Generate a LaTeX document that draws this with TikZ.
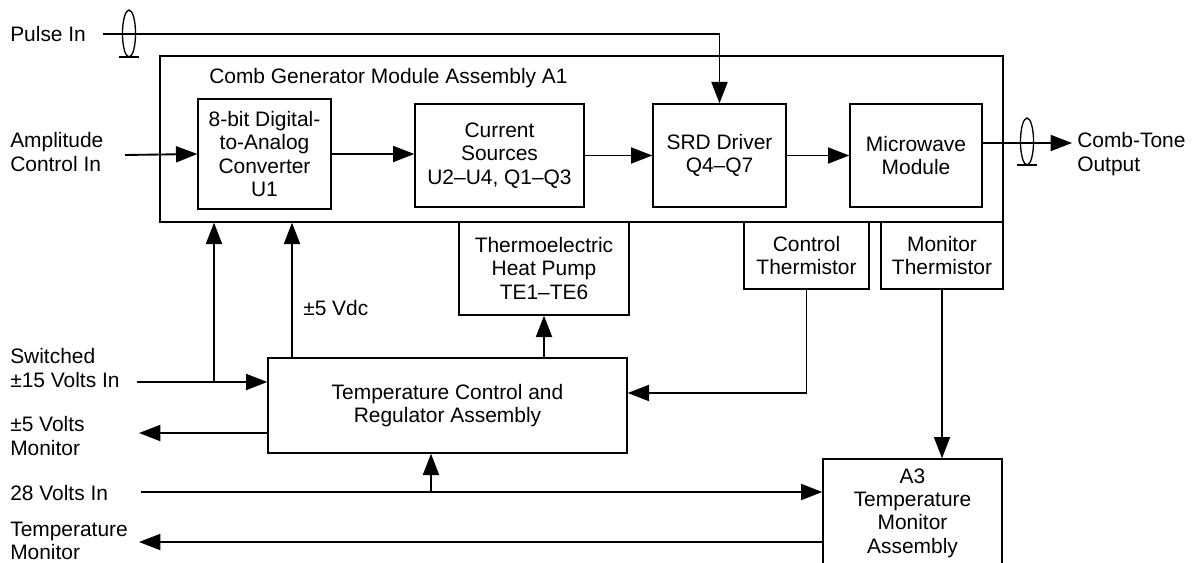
\documentclass[tikz,border=0pt]{standalone}
\usepackage{fontspec}
\setmainfont{Liberation Sans}
\usepackage{tikz}
\usetikzlibrary{arrows.meta,positioning}

\tikzset{
  blk/.style={draw,line width=1pt,align=center,inner sep=0pt},
  lbl/.style={align=left,inner sep=0pt,anchor=west},
  conn/.style={line width=1.4pt},
  arr/.style={conn,-{Triangle[length=16pt,width=12pt]}},
}
\newcommand{\shieldmark}[1]{%
  \draw[line width=1pt] (#1) ellipse [x radius=4.9pt,y radius=17.6pt];
  \draw[line width=1pt] ([xshift=-7.7pt,yshift=-17.6pt]#1) -- ++(15.4pt,0pt);}

\begin{document}
\begin{tikzpicture}[x=0.75pt,y=-0.75pt,font=\fontsize{15.7pt}{17.5pt}\selectfont]
\clip (0,0) rectangle (1195,563);
% comb generator module A1
\node[blk,minimum width=632.25pt,minimum height=124.5pt] (a1) at (581.5,139) {};
\node[lbl] (a1t) at (209,78) {Comb Generator Module Assembly A1};
\node[blk,minimum width=99.75pt,minimum height=82.5pt] (dac) at (264.5,154) {8-bit Digital-\\to-Analog\\Converter\\U1};
\node[blk,minimum width=126.75pt,minimum height=77.25pt] (cur) at (499.5,155.5) {Current\\Sources\\U2--U4, Q1--Q3};
\node[blk,minimum width=99.75pt,minimum height=77.25pt] (srd) at (719.5,155.5) {SRD Driver\\Q4--Q7};
\node[blk,minimum width=99pt,minimum height=77.25pt] (mw) at (916,155.5) {Microwave\\Module};
% boxes under A1
\node[blk,minimum width=127.5pt,minimum height=69.75pt] (hp) at (544,268.5) {Thermoelectric\\Heat Pump\\TE1--TE6};
\node[blk,minimum width=93.75pt,minimum height=50.25pt] (cth) at (806.5,255.5) {Control\\Thermistor};
\node[blk,minimum width=91.5pt,minimum height=50.25pt] (mth) at (942,255.5) {Monitor\\Thermistor};
\node[blk,minimum width=269.25pt,minimum height=71.25pt] (tc) at (447.5,405.5) {Temperature Control and\\Regulator Assembly};
\node[blk,minimum width=134.25pt,minimum height=81pt] (a3) at (912.5,513) {A3\\Temperature\\Monitor\\Assembly};
% signal names
\node[lbl] (pin) at (10,34) {Pulse In};
\node[lbl] (amp) at (10,152) {Amplitude\\Control In};
\node[lbl] (sw) at (10,368) {Switched\\±15 Volts In};
\node[lbl] (mon5) at (10,436) {±5 Volts\\Monitor};
\node[lbl] (v28) at (10,493) {28 Volts In};
\node[lbl] (tmon) at (10,541) {Temperature\\Monitor};
\node[lbl] (out) at (1077,154) {Comb-Tone\\Output};
\node[lbl] (vdc) at (303,308) {±5 Vdc};
% free ends and junctions
\coordinate (pa) at (103,34);
\coordinate (aa) at (125,155);
\coordinate (sa) at (137,382);
\coordinate (sj) at (214,382);
\coordinate (vd) at (292,358);
\coordinate (ma) at (139,433);
\coordinate (va) at (141,492);
\coordinate (vj) at (431,492);
\coordinate (ta) at (139,542);
\coordinate (ca) at (627,393);
\coordinate (oa) at (1072,143);
% connectors
\draw[arr] (pa) -| (srd.north);
\draw[arr] (aa) -- (dac.west);
\draw[arr] (dac.east) -- (dac.east -| cur.west);
\draw[arr] (cur.east) -- (srd.west);
\draw[arr] (srd.east) -- (mw.west);
\draw[arr] (mw.east |- oa) -- (oa);
\draw[arr] (sa) -- (sa -| tc.west);
\draw[arr] (sj) -- (sj |- a1.south);
\draw[arr] (vd |- tc.north) -- (vd |- a1.south);
\draw[arr] (hp.south |- tc.north) -- (hp.south);
\draw[arr] (cth.south) |- (ca -| tc.east);
\draw[arr] (tc.west |- ma) -- (ma);
\draw[arr] (va) -- (va -| a3.west);
\draw[arr] (vj) -- (vj |- tc.south);
\draw[arr] (a3.west |- ta) -- (ta);
\draw[arr] (mth.south) -- (mth.south |- a3.north);
% coax marks
\coordinate (pc) at (129,33.5);
\coordinate (oc) at (1027,141.5);
\shieldmark{pc}
\shieldmark{oc}
\end{tikzpicture}
\end{document}
